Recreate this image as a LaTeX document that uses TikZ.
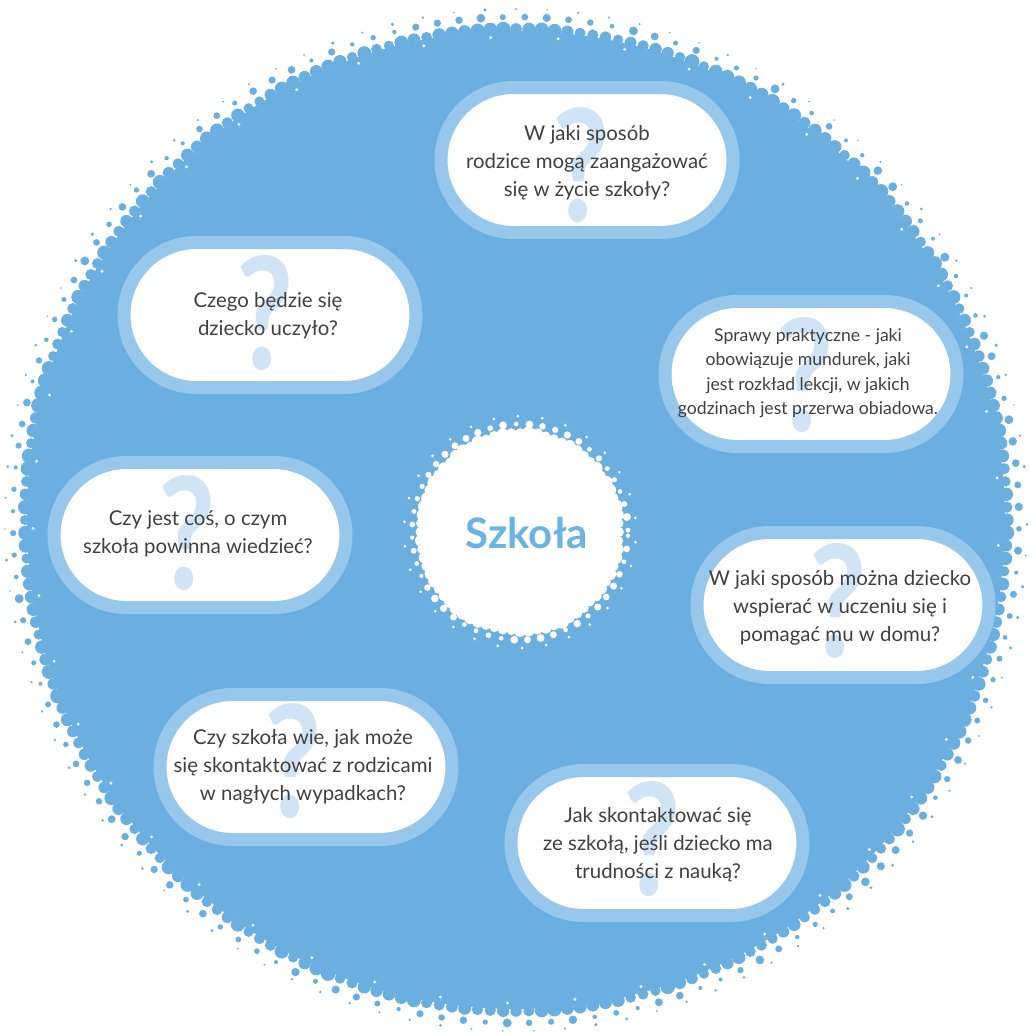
\documentclass[tikz,border=0pt]{standalone}
\usepackage{fontspec}
\setmainfont{Lato}
\usepackage{graphicx}
\usepackage{tikz}
\usetikzlibrary{shapes.misc}
\definecolor{schoolblue}{HTML}{6AAFE0}
\definecolor{ringblue}{HTML}{97C8EC}
\definecolor{markblue}{HTML}{D0E4F6}
\definecolor{titleblue}{HTML}{6BB3E3}
\definecolor{qtext}{HTML}{404040}
\tikzstyle{pill} = [rounded rectangle, draw=ringblue, line width=6.5pt, fill=white, minimum width=146pt, minimum height=72.5pt, inner sep=0pt]
\tikzstyle{qmark} = [text=markblue, font=\fontsize{78}{78}\selectfont\bfseries, inner sep=0pt]
\tikzstyle{question} = [text=qtext, align=center, font=\fontsize{10.2}{14}\selectfont, inner sep=0pt]
\tikzstyle{title} = [text=titleblue, font=\fontsize{21}{21}\selectfont\bfseries, inner sep=0pt]
\newcommand{\qsign}{\scalebox{0.8}[1]{?}}

\begin{document}
\begin{tikzpicture}[x=0.5pt,y=-0.5pt]
\useasboundingbox (0,0) rectangle (1031,1035);
\fill[white] (0,0) rectangle (1031,1035);
\pgfmathsetseed{11}
% big bubbly disc
\foreach \a in {0,1.5,...,358.5}{
	\pgfmathsetmacro\rad{5+2.5*rnd}
	\fill[schoolblue] (516,520) ++(\a:491) circle (\rad);
}
\foreach \a in {1,3.5,...,359}{
	\pgfmathsetmacro\rad{2+2.5*rnd}
	\fill[schoolblue] (516,520) ++(\a:503) circle (\rad);
}
\foreach \a in {0.5,4,...,357}{
	\pgfmathsetmacro\rad{0.8+1*rnd}
	\fill[schoolblue] (516,520) ++(\a:511) circle (\rad);
}
\fill[schoolblue] (516,520) circle (489);
\foreach \a in {3,11,...,355}
	\fill[white] (516,520) ++(\a:483) circle (1.6);
% white centre
\foreach \a in {0,5,...,355}{
	\pgfmathsetmacro\rad{4.5+2.5*rnd}
	\fill[white] (520,532) ++(\a:99) circle (\rad);
}
\foreach \a in {2,9,...,359}{
	\pgfmathsetmacro\rad{2+2*rnd}
	\fill[white] (520,532) ++(\a:108) circle (\rad);
}
\foreach \a in {5,17,...,353}
	\fill[white] (520,532) ++(\a:116) circle (1.5);
\fill[white] (520,532) circle (97);
\node[title] (szkola) at (527,533) {Szkoła};

% questions
\node[pill] (p1) at (587,160) {};
\node[qmark] (m1) at (581,165) {\qsign};
\node[question] (t1) at (587,163) {W jaki sposób\\rodzice mogą zaangażować\\się w życie szkoły?};

\node[pill] (p2) at (270,315) {};
\node[qmark] (m2) at (265,313) {\qsign};
\node[question] (t2) at (268,316) {Czego będzie się\\dziecko uczyło?};

\node[pill] (p3) at (811,374) {};
\node[qmark] (m3) at (805,375) {\qsign};
\node[question, font=\fontsize{8.8}{12.25}\selectfont] (t3) at (808,373) {Sprawy praktyczne - jaki\\obowiązuje mundurek, jaki\\jest rozkład lekcji, w jakich\\godzinach jest przerwa obiadowa.};

\node[pill] (p4) at (200,535) {};
\node[qmark] (m4) at (187,533) {\qsign};
\node[question] (t4) at (198,534) {Czy jest coś, o czym\\szkoła powinna wiedzieć?};

\node[pill] (p5) at (843,605) {};
\node[qmark] (m5) at (838,601) {\qsign};
\node[question] (t5) at (840,608) {W jaki sposób można dziecko\\wspierać w uczeniu się i\\pomagać mu w domu?};

\node[pill] (p6) at (306,767) {};
\node[qmark] (m6) at (293,761) {\qsign};
\node[question] (t6) at (303,767) {Czy szkoła wie, jak może\\się skontaktować z rodzicami\\w nagłych wypadkach?};

\node[pill] (p7) at (657,843) {};
\node[qmark] (m7) at (652,839) {\qsign};
\node[question] (t7) at (658,845) {Jak skontaktować się\\ze szkołą, jeśli dziecko ma\\trudności z nauką?};
\end{tikzpicture}
\end{document}
